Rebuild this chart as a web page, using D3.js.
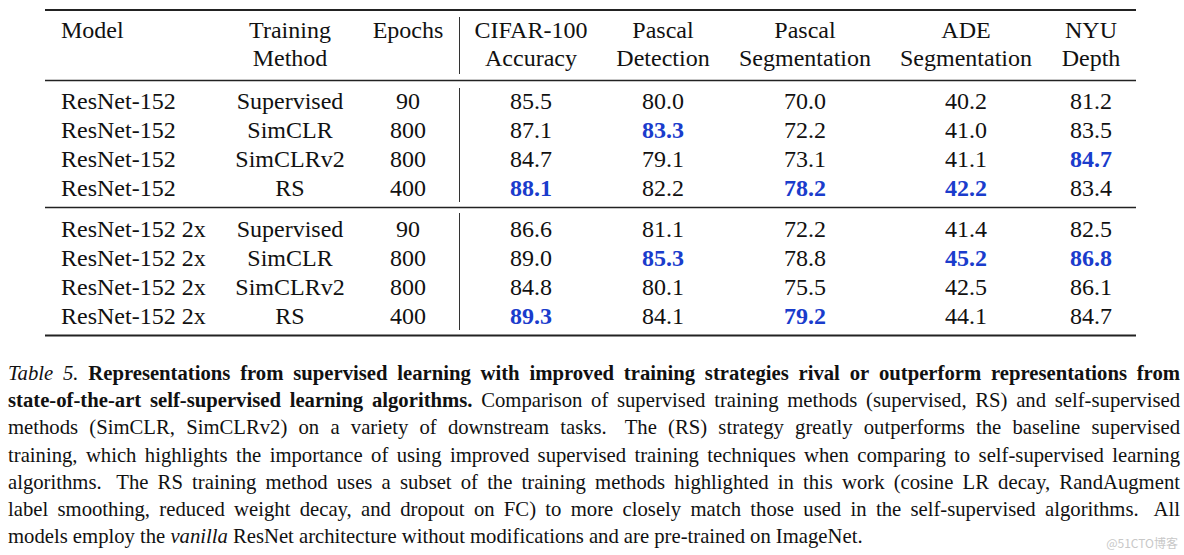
<!DOCTYPE html>
<html><head><meta charset="utf-8">
<script src="https://cdn.jsdelivr.net/npm/d3@7/dist/d3.min.js"></script>
<style>html,body{margin:0;padding:0;background:#fff;}svg{display:block;}</style>
</head><body>
<script>
// ---------- data ----------
const headerLine1 = ["Model", "Training", "Epochs", "CIFAR-100", "Pascal", "Pascal", "ADE", "NYU"];
const headerLine2 = ["", "Method", "", "Accuracy", "Detection", "Segmentation", "Segmentation", "Depth"];
const groups = [0, 0, 0, 0, 1, 1, 1, 1];
const models = ["ResNet-152", "ResNet-152", "ResNet-152", "ResNet-152",
                "ResNet-152 2x", "ResNet-152 2x", "ResNet-152 2x", "ResNet-152 2x"];
const methods = ["Supervised", "SimCLR", "SimCLRv2", "RS", "Supervised", "SimCLR", "SimCLRv2", "RS"];
const epochs = [90, 800, 800, 400, 90, 800, 800, 400];
const cifar100 = [85.5, 87.1, 84.7, 88.1, 86.6, 89.0, 84.8, 89.3];
const pascalDet = [80.0, 83.3, 79.1, 82.2, 81.1, 85.3, 80.1, 84.1];
const pascalSeg = [70.0, 72.2, 73.1, 78.2, 72.2, 78.8, 75.5, 79.2];
const adeSeg = [40.2, 41.0, 41.1, 42.2, 41.4, 45.2, 42.5, 44.1];
const nyuDepth = [81.2, 83.5, 84.7, 83.4, 82.5, 86.8, 86.1, 84.7];

const captionLines = [
  [["i","Table 5."],["b","Representations from supervised learning with improved training strategies rival or outperform representations from"]],
  [["b","state-of-the-art self-supervised learning algorithms."],["n","Comparison of supervised training methods (supervised, RS) and self-supervised"]],
  [["n","methods (SimCLR, SimCLRv2) on a variety of downstream tasks.  The (RS) strategy greatly outperforms the baseline supervised"]],
  [["n","training, which highlights the importance of using improved supervised training techniques when comparing to self-supervised learning"]],
  [["n","algorithms.  The RS training method uses a subset of the training methods highlighted in this work (cosine LR decay, RandAugment"]],
  [["n","label smoothing, reduced weight decay, and dropout on FC) to more closely match those used in the self-supervised algorithms.  All"]],
  [["n","models employ the"],["i","vanilla"],["n","ResNet architecture without modifications and are pre-trained on ImageNet."]]
];
const watermark = "@51CTO博客";

// ---------- layout ----------
const W = 1184, H = 555;
const FONT = "'Liberation Serif','Times New Roman',Times,serif";
const BLUE = "#1a3ccc";
const svg = d3.select("body").append("svg").attr("width", W).attr("height", H);

const colKeys = d3.range(8);
const colX = d3.scaleOrdinal().domain(colKeys).range([61, 290, 408, 531, 663, 805, 966, 1091]);
const colAnchor = k => k === 0 ? "start" : "middle";
const ruleX = d3.scaleLinear().domain([0, 1]).range([45, 1136]);

// rows: band scale within each group
const rowY = [
  d3.scaleBand().domain(d3.range(4)).range([86, 202]),
  d3.scaleBand().domain(d3.range(4)).range([214, 330])
];
const rowBase = i => rowY[groups[i]](i % 4) + rowY[groups[i]].bandwidth() / 2 + 8;

const columns = [models, methods, epochs, cifar100, pascalDet, pascalSeg, adeSeg, nyuDepth];
const fmt = (k, v) => k >= 3 ? d3.format(".1f")(v) : String(v);
const isBest = (k, i) => {
  if (k < 3) return false;
  const g = groups[i];
  const vals = columns[k].filter((_, j) => groups[j] === g);
  return columns[k][i] === d3.max(vals);
};

// header
const hdr = svg.append("g").attr("font-family", FONT).attr("font-size", 24).attr("fill", "#111");
hdr.selectAll("text.h1").data(colKeys).join("text").attr("class", "h1")
  .attr("x", k => colX(k)).attr("y", 38).attr("text-anchor", colAnchor).text(k => headerLine1[k]);
hdr.selectAll("text.h2").data(colKeys.filter(k => headerLine2[k])).join("text").attr("class", "h2")
  .attr("x", k => colX(k)).attr("y", 66).attr("text-anchor", colAnchor).text(k => headerLine2[k]);

// body
const cells = [];
models.forEach((_, i) => colKeys.forEach(k => cells.push({i, k})));
svg.append("g").attr("font-family", FONT).attr("font-size", 24)
  .selectAll("text").data(cells).join("text")
  .attr("x", d => colX(d.k)).attr("y", d => rowBase(d.i))
  .attr("text-anchor", d => colAnchor(d.k))
  .attr("font-weight", d => isBest(d.k, d.i) ? "bold" : "normal")
  .attr("fill", d => isBest(d.k, d.i) ? BLUE : "#111")
  .text(d => fmt(d.k, columns[d.k][d.i]));

// rules
const rules = [{y: 10, w: 2}, {y: 80.5, w: 1.3}, {y: 207.5, w: 1.3}, {y: 335.5, w: 2}];
svg.append("g").selectAll("line").data(rules).join("line")
  .attr("x1", ruleX(0)).attr("x2", ruleX(1)).attr("y1", d => d.y).attr("y2", d => d.y)
  .attr("stroke", "#222").attr("stroke-width", d => d.w);
const vsegs = [[17, 74], [88, 202], [213, 330]];
svg.append("g").selectAll("line").data(vsegs).join("line")
  .attr("x1", 459.5).attr("x2", 459.5).attr("y1", d => d[0]).attr("y2", d => d[1])
  .attr("stroke", "#333").attr("stroke-width", 1);

// caption, justified
const cap = svg.append("g").attr("font-family", FONT).attr("font-size", 20.7).attr("fill", "#111");
const capLeft = 8, capRight = 1180, capTop = 380, capLead = 27.2;
captionLines.forEach((line, li) => {
  const words = [];
  line.forEach(([st, txt]) => {
    const parts = txt.split(/(\s+)/).filter(s => s.length);
    parts.forEach(p => {
      if (/^\s+$/.test(p)) { if (words.length) words[words.length - 1].gapW = p.length > 1 ? 1.6 : 1; }
      else words.push({st, t: p, gapW: 1});
    });
  });
  const y = capTop + li * capLead;
  const nodes = words.map(w => cap.append("text").attr("y", y)
    .attr("font-style", w.st === "i" ? "italic" : "normal")
    .attr("font-weight", w.st === "b" ? "bold" : "normal").text(w.t));
  const widths = nodes.map(n => n.node().getComputedTextLength());
  const total = d3.sum(widths);
  const gaps = words.slice(0, -1).map(w => w.gapW);
  const last = li === captionLines.length - 1;
  const unit = last ? 5.1 : (capRight - capLeft - total) / d3.sum(gaps);
  let x = capLeft;
  nodes.forEach((n, j) => { n.attr("x", x); x += widths[j] + (j < gaps.length ? gaps[j] * unit : 0); });
});

svg.append("text").attr("x", 1178).attr("y", 548).attr("text-anchor", "end")
  .attr("font-family", "'Noto Sans CJK SC','Noto Sans',sans-serif").attr("font-size", 12)
  .attr("fill", "#c8c8c8").text(watermark);
</script>
</body></html>
